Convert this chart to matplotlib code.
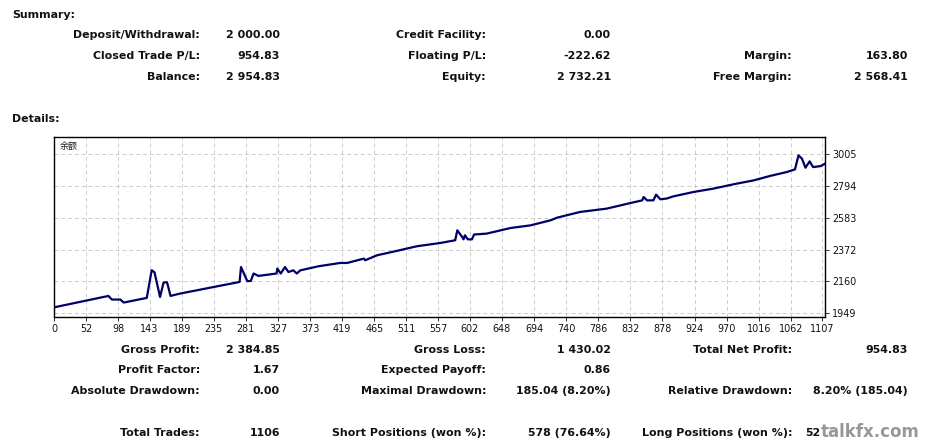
import matplotlib.pyplot as plt

# balance curve (trade number, balance)
trades = [8, 84, 89, 101, 106, 139, 146, 150, 158, 163, 168, 173, 187,
          272, 274, 283, 288, 292, 299, 325, 326, 331, 337, 342, 349, 354,
          359, 385, 416, 426, 450, 452, 469, 497, 526, 560, 581, 584, 591,
          593, 595, 599, 605, 608, 626, 660, 689, 718, 727, 760, 798, 832,
          849, 851, 856, 865, 869, 875, 884, 894, 923, 951, 980, 1009, 1032,
          1056, 1068, 1073, 1078, 1083, 1089, 1094, 1105, 1111]
balance = [1990, 2064, 2040, 2040, 2020, 2051, 2235, 2221, 2057, 2153, 2155,
           2064, 2080, 2157, 2256, 2163, 2163, 2213, 2197, 2213, 2246, 2213,
           2256, 2223, 2234, 2213, 2234, 2261, 2283, 2283, 2312, 2301, 2334,
           2363, 2394, 2416, 2434, 2500, 2456, 2440, 2467, 2440, 2440, 2472,
           2478, 2515, 2533, 2567, 2584, 2622, 2644, 2681, 2699, 2721, 2699,
           2699, 2737, 2706, 2711, 2726, 2755, 2777, 2806, 2832, 2861, 2887,
           2905, 2998, 2976, 2916, 2958, 2920, 2927, 2943]

x_ticks = [0, 52, 98, 143, 189, 235, 281, 327, 373, 419, 465, 511, 557, 602,
           648, 694, 740, 786, 832, 878, 924, 970, 1016, 1062, 1107]
y_ticks = [1949, 2160, 2372, 2583, 2794, 3005]

summary_rows = [
    [("Deposit/Withdrawal:", "2 000.00"), ("Credit Facility:", "0.00"), None],
    [("Closed Trade P/L:", "954.83"), ("Floating P/L:", "-222.62"), ("Margin:", "163.80")],
    [("Balance:", "2 954.83"), ("Equity:", "2 732.21"), ("Free Margin:", "2 568.41")],
]
detail_rows = [
    [("Gross Profit:", "2 384.85"), ("Gross Loss:", "1 430.02"), ("Total Net Profit:", "954.83")],
    [("Profit Factor:", "1.67"), ("Expected Payoff:", "0.86"), None],
    [("Absolute Drawdown:", "0.00"), ("Maximal Drawdown:", "185.04 (8.20%)"),
     ("Relative Drawdown:", "8.20% (185.04)")],
    [("Total Trades:", "1106"), ("Short Positions (won %):", "578 (76.64%)"),
     ("Long Positions (won %):", "52")],
]

W, H = 936, 442
fig = plt.figure(figsize=(W / 100, H / 100), dpi=100)

def put(x, y, s, ha="left", **kw):
    fig.text(x / W, 1 - y / H, s, ha=ha, va="center", fontsize=7.9,
             fontweight="bold", color="#111111", **kw)

label_x = [200, 486, 792]
value_x = [280, 611, 908]

put(12, 15, "Summary:")
for row, y in zip(summary_rows, [35, 56, 77]):
    for col, cell in enumerate(row):
        if cell:
            put(label_x[col], y, cell[0], ha="right")
            put(value_x[col], y, cell[1], ha="right")

put(12, 119, "Details:")
for row, y in zip(detail_rows, [350, 370, 391, 433]):
    for col, cell in enumerate(row):
        if cell:
            put(label_x[col], y, cell[0], ha="right")
            if cell[1] == "52":
                put(805, y, cell[1])
            else:
                put(value_x[col], y, cell[1], ha="right")

# watermark over the last value
fig.text(821 / W, 1 - 432 / H, "talkfx.com", ha="left", va="center",
         fontsize=12, fontweight="bold", color="#8c8c8c", alpha=0.9)

# chart
xmin, xmax = 6, 1111
ax = fig.add_axes([54 / W, 1 - 316.7 / H, (825 - 54) / W, (316.7 - 137.3) / H])
ax.plot(trades, balance, color="#000066", lw=1.6)
ax.set_xlim(xmin, xmax)
ax.set_ylim(1926, 3118)
ax.set_xticks([max(t, xmin) for t in x_ticks])
ax.set_xticklabels([str(t) for t in x_ticks])
ax.set_yticks(y_ticks)
ax.yaxis.tick_right()
ax.tick_params(labelsize=6.9, length=3, width=0.6, pad=2, colors="#111111")
ax.grid(True, color="#cccccc", ls=(0, (4, 3)), lw=0.7)
for s in ax.spines.values():
    s.set_linewidth(1.0)
    s.set_color("black")
ax.text(0.008, 0.95, "余额", transform=ax.transAxes, ha="left", va="center",
        fontsize=6.5, family=["Noto Sans CJK SC", "DejaVu Sans"], color="#222222")

fig.savefig("out.png", dpi=100)
